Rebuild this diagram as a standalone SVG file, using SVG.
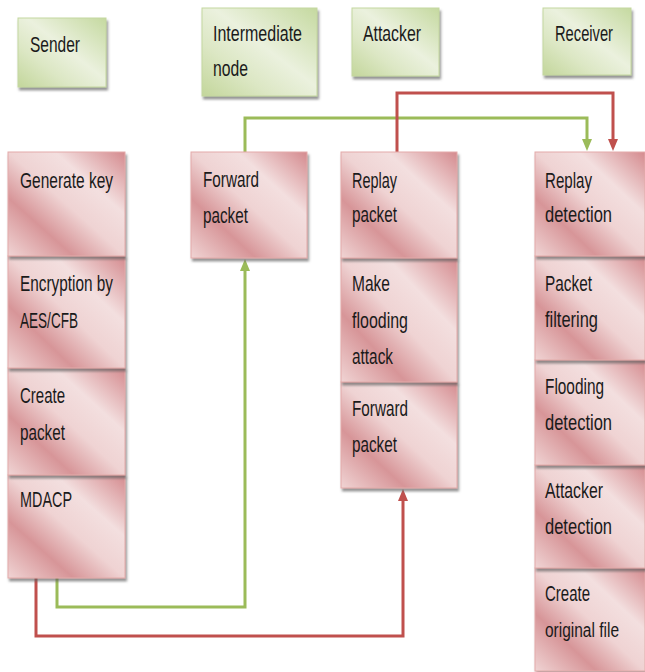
<svg xmlns="http://www.w3.org/2000/svg" width="645" height="672" viewBox="0 0 645 672">
<style>
  text { font-family: "Liberation Sans", Arial, sans-serif; font-size: 22px; fill: #1a1a1a; }
  text.sm { font-size: 20px; }
  .hdr { fill: url(#gGreen); stroke: #c4d79f; stroke-width: 1; filter: url(#sh); }
  .cell { fill: url(#gPink); stroke: #e3aaa9; stroke-width: 1; filter: url(#sh); }
  .g { fill: none; stroke: #9bbb59; stroke-width: 3; }
  .r { fill: none; stroke: #c0504d; stroke-width: 3; }
</style>
<defs>
  <linearGradient id="gGreen" x1="1" y1="0" x2="0" y2="1">
    <stop offset="0" stop-color="#c5d9a0"/>
    <stop offset="0.45" stop-color="#ebf1de"/>
    <stop offset="0.7" stop-color="#dce7c4"/>
    <stop offset="1" stop-color="#c3d69b"/>
  </linearGradient>
  <linearGradient id="gPink" x1="1" y1="0" x2="0" y2="1">
    <stop offset="0" stop-color="#d48a8e"/>
    <stop offset="0.3" stop-color="#f3dfdf"/>
    <stop offset="0.5" stop-color="#efd3d3"/>
    <stop offset="0.72" stop-color="#d79598"/>
    <stop offset="1" stop-color="#f0d4d4"/>
  </linearGradient>
  <filter id="sh" x="-10%" y="-10%" width="130%" height="130%">
    <feDropShadow dx="1.5" dy="3" stdDeviation="1.2" flood-color="#5e5e5e" flood-opacity="0.65"/>
  </filter>
</defs>
<rect width="645" height="672" fill="#ffffff"/>

<g id="connectors">
  <path class="g" d="M57,578 V607 H245 V270"/>
  <path d="M240,271 L250,271 L245,259 Z" fill="#9bbb59"/>
  <path class="g" d="M245,152 V118 H587 V140"/>
  <path d="M582,139 L592,139 L587,151 Z" fill="#9bbb59"/>
  <path class="r" d="M36,578 V636 H403 V500"/>
  <path d="M398,501 L408,501 L403,489 Z" fill="#c0504d"/>
  <path class="r" d="M397,152 V93 H613 V140"/>
  <path d="M608,139 L618,139 L613,151 Z" fill="#c0504d"/>
</g>

<g id="hdr-sender">
  <rect class="hdr" x="18" y="18" width="88" height="69"/>
  <text x="30" y="52" textLength="50" lengthAdjust="spacingAndGlyphs">Sender</text>
</g>
<g id="hdr-intermediate">
  <rect class="hdr" x="202" y="8" width="115" height="88"/>
  <text x="213" y="41" textLength="89" lengthAdjust="spacingAndGlyphs">Intermediate</text>
  <text x="213" y="76" textLength="35" lengthAdjust="spacingAndGlyphs">node</text>
</g>
<g id="hdr-attacker">
  <rect class="hdr" x="352" y="8" width="87" height="68"/>
  <text x="363" y="41" textLength="58" lengthAdjust="spacingAndGlyphs">Attacker</text>
</g>
<g id="hdr-receiver">
  <rect class="hdr" x="543" y="8" width="88" height="67"/>
  <text x="555" y="41" textLength="58" lengthAdjust="spacingAndGlyphs">Receiver</text>
</g>

<g id="sender-mdacp">
  <rect class="cell" x="8" y="475" width="117" height="103"/>
  <text x="20" y="507" textLength="52" lengthAdjust="spacingAndGlyphs">MDACP</text>
</g>
<g id="sender-create-packet">
  <rect class="cell" x="8" y="368" width="117" height="107"/>
  <text x="20" y="403" textLength="45" lengthAdjust="spacingAndGlyphs">Create</text>
  <text x="20" y="440" textLength="45" lengthAdjust="spacingAndGlyphs">packet</text>
</g>
<g id="sender-encryption">
  <rect class="cell" x="8" y="256" width="117" height="112"/>
  <text x="20" y="291" textLength="93" lengthAdjust="spacingAndGlyphs">Encryption by</text>
  <text x="20" y="328" textLength="58" lengthAdjust="spacingAndGlyphs">AES/CFB</text>
</g>
<g id="sender-generate-key">
  <rect class="cell" x="8" y="152" width="117" height="104"/>
  <text x="20" y="188" textLength="93" lengthAdjust="spacingAndGlyphs">Generate key</text>
</g>

<g id="inter-forward-packet">
  <rect class="cell" x="191" y="152" width="116" height="106"/>
  <text x="203" y="187" textLength="56" lengthAdjust="spacingAndGlyphs">Forward</text>
  <text x="203" y="223" textLength="45" lengthAdjust="spacingAndGlyphs">packet</text>
</g>

<g id="att-forward-packet">
  <rect class="cell" x="341" y="382" width="116" height="106"/>
  <text x="352" y="416" textLength="56" lengthAdjust="spacingAndGlyphs">Forward</text>
  <text x="352" y="452" textLength="45" lengthAdjust="spacingAndGlyphs">packet</text>
</g>
<g id="att-flooding">
  <rect class="cell" x="341" y="258" width="116" height="124"/>
  <text x="352" y="291" textLength="38" lengthAdjust="spacingAndGlyphs">Make</text>
  <text x="352" y="328" textLength="56" lengthAdjust="spacingAndGlyphs">flooding</text>
  <text x="352" y="364" textLength="41" lengthAdjust="spacingAndGlyphs">attack</text>
</g>
<g id="att-replay-packet">
  <rect class="cell" x="341" y="152" width="116" height="106"/>
  <text x="352" y="188" textLength="45" lengthAdjust="spacingAndGlyphs">Replay</text>
  <text x="352" y="222" textLength="45" lengthAdjust="spacingAndGlyphs">packet</text>
</g>

<g id="rcv-create-original">
  <rect class="cell" x="535" y="568" width="110" height="103"/>
  <text x="545" y="601" textLength="45" lengthAdjust="spacingAndGlyphs">Create</text>
  <text class="sm" x="545" y="637" textLength="74" lengthAdjust="spacingAndGlyphs">original file</text>
</g>
<g id="rcv-attacker-detection">
  <rect class="cell" x="535" y="465" width="110" height="103"/>
  <text x="545" y="498" textLength="58" lengthAdjust="spacingAndGlyphs">Attacker</text>
  <text x="545" y="534" textLength="67" lengthAdjust="spacingAndGlyphs">detection</text>
</g>
<g id="rcv-flooding-detection">
  <rect class="cell" x="535" y="360" width="110" height="105"/>
  <text x="545" y="394" textLength="59" lengthAdjust="spacingAndGlyphs">Flooding</text>
  <text x="545" y="430" textLength="67" lengthAdjust="spacingAndGlyphs">detection</text>
</g>
<g id="rcv-packet-filtering">
  <rect class="cell" x="535" y="256" width="110" height="104"/>
  <text x="545" y="291" textLength="47" lengthAdjust="spacingAndGlyphs">Packet</text>
  <text x="545" y="327" textLength="53" lengthAdjust="spacingAndGlyphs">filtering</text>
</g>
<g id="rcv-replay-detection">
  <rect class="cell" x="535" y="152" width="110" height="104"/>
  <text x="545" y="188" textLength="47" lengthAdjust="spacingAndGlyphs">Replay</text>
  <text x="545" y="222" textLength="67" lengthAdjust="spacingAndGlyphs">detection</text>
</g>
</svg>
